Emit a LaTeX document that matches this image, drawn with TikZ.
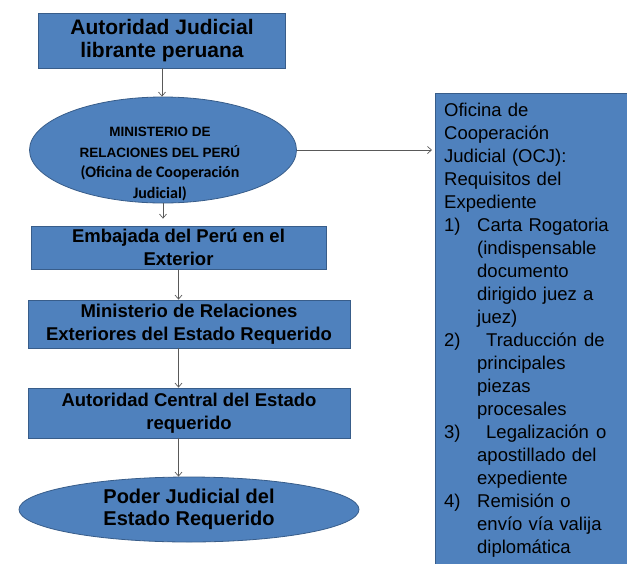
\documentclass[tikz,border=0pt]{standalone}
\usepackage{fontspec}
\setmainfont{Liberation Sans}
\newfontfamily\calibri{Carlito}
\usetikzlibrary{arrows.meta,positioning,shapes.geometric,calc}
\definecolor{boxfill}{HTML}{4F81BD}
\definecolor{boxline}{HTML}{385D8A}
\definecolor{arrgray}{HTML}{595959}
\tikzset{
  stepbox/.style ={draw=boxline, fill=boxfill, line width=0.8pt,
                   inner sep=0pt, align=center,
                   font=\bfseries\fontsize{18.5}{22.5}\selectfont},
  ovalbox/.style ={ellipse, draw=boxline, fill=boxfill, line width=0.8pt,
                   inner sep=0pt, align=center,
                   font=\bfseries\fontsize{20}{22.5}\selectfont},
  notebox/.style ={draw=boxline, fill=boxfill, line width=0.8pt, inner sep=0pt},
  notetext/.style={inner sep=0pt, text width=178pt, align=left,
                   font=\fontsize{18.5}{23}\selectfont},
  flowarr/.style ={-{Straight Barb[length=4pt,width=7pt]}, line width=0.7pt, draw=arrgray},
}

\begin{document}
\begin{tikzpicture}[x=1pt,y=-1pt]
  \clip (0,0) rectangle (627,563);
  \fill[white] (0,0) rectangle (627,563);

  % main flow
  \node[stepbox, minimum width=247pt, minimum height=55pt, font=\bfseries\fontsize{21}{23}\selectfont] (lib) at (162,40.5)
    {Autoridad Judicial\\librante peruana};
  \node[ovalbox, minimum width=267pt, minimum height=106pt] (min) at (163,150) {};
  \node[font=\bfseries\fontsize{13.5}{20.5}\selectfont, align=center, inner sep=0pt] (mintxt) at (160,164)
    {MINISTERIO DE\\RELACIONES DEL PERÚ\\{\calibri\fontsize{16}{17}\selectfont (Oficina de Cooperación}\\{\calibri\fontsize{16}{17}\selectfont Judicial)}};
  \node[stepbox, minimum width=295pt, minimum height=43pt] (emb) at (178.5,247.5)
    {Embajada del Perú en el\\Exterior};
  \node[stepbox, minimum width=322pt, minimum height=48pt] (mre) at (189,324)
    {Ministerio de Relaciones\\Exteriores del Estado Requerido};
  \node[stepbox, minimum width=322pt, minimum height=50pt] (ac) at (189,413)
    {Autoridad Central del Estado\\requerido};
  \node[ovalbox, minimum width=340pt, minimum height=65pt] (pj) at (189,509.5)
    {Poder Judicial del\\Estado Requerido};

  % requisitos OCJ
  \node[notebox, anchor=north west, minimum width=220pt, minimum height=490pt] (req) at (435,93) {};
  \node[notetext, anchor=north west] (reqtxt) at (444,103)
    {Oficina de\\
     Cooperación\\
     Judicial (OCJ):\\
     Requisitos del\\
     Expediente\\
     \makebox[33pt][l]{1)}Carta Rogatoria\\
     \hspace*{33pt}(indispensable\\
     \hspace*{33pt}documento\\
     \hspace*{33pt}dirigido juez a\\
     \hspace*{33pt}juez)\\
     \makebox[33pt][l]{2)}\hspace{9pt}Traducción\hspace{7pt}de\\
     \hspace*{33pt}principales\\
     \hspace*{33pt}piezas\\
     \hspace*{33pt}procesales\\
     \makebox[33pt][l]{3)}\hspace{9pt}Legalización\hspace{7pt}o\\
     \hspace*{33pt}apostillado del\\
     \hspace*{33pt}expediente\\
     \makebox[33pt][l]{4)}Remisión o\\
     \hspace*{33pt}envío vía valija\\
     \hspace*{33pt}diplomática};

  % arrows
  \draw[flowarr] (lib.south) -- (lib.south |- min.north);
  \draw[flowarr, shorten >=7pt] (min.south) -- (min.south |- emb.north);
  \draw[flowarr] (emb.south) -- (emb.south |- mre.north);
  \draw[flowarr] (emb.south |- mre.south) -- (emb.south |- ac.north);
  \draw[flowarr] (emb.south |- ac.south) -- (emb.south |- pj.north);
  \draw[flowarr, shorten >=3pt] (min.east) -- (req.west |- min.east);
\end{tikzpicture}
\end{document}
